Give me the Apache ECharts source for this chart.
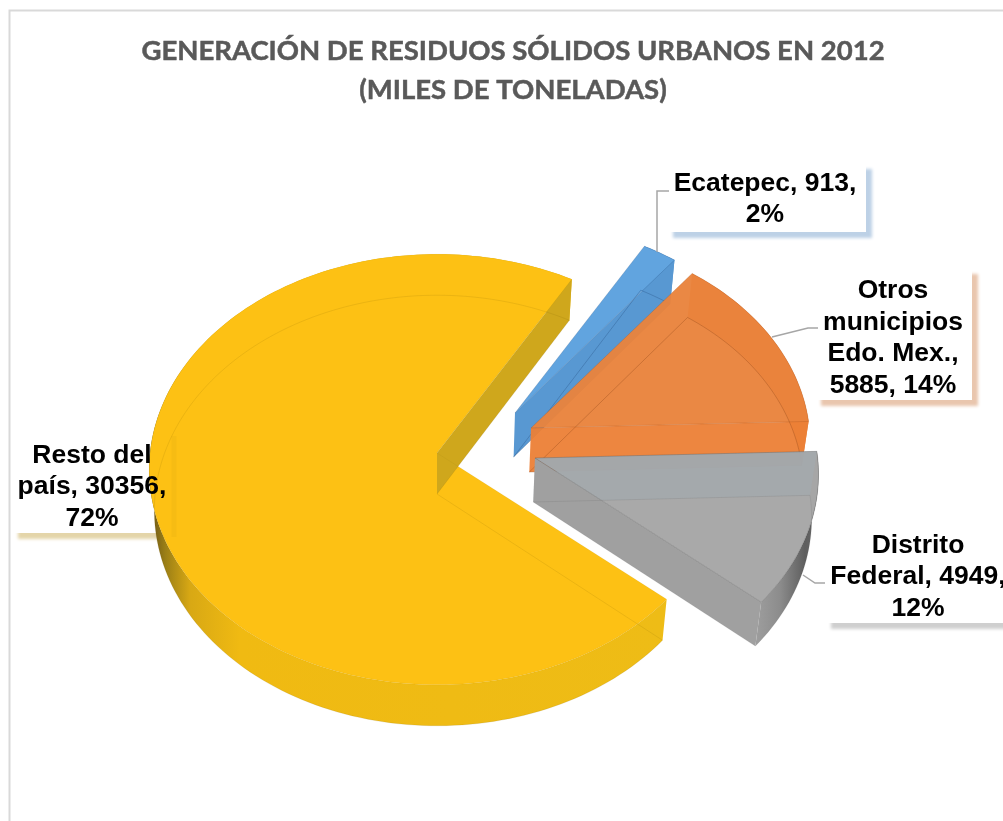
<!DOCTYPE html>
<html lang="es">
<head>
<meta charset="utf-8">
<title>Generación de residuos sólidos urbanos en 2012</title>
<style>
  html, body { margin: 0; padding: 0; background: #fff; overflow: hidden; }
  #chart { width: 1003px; height: 821px; }
</style>
<script src="https://cdn.jsdelivr.net/npm/echarts@6/dist/echarts.min.js"></script>
</head>
<body>
<div id="chart"></div>
<script>
// Generated urban solid waste, thousands of tonnes, 2012
const categories = ['Resto del país', 'Ecatepec', 'Otros municipios Edo. Mex.', 'Distrito Federal'];
const values = [30356, 913, 5885, 4949];
const percents = [72, 2, 14, 12];
const labelTexts = [
  'Resto del\npaís, 30356,\n72%',
  'Ecatepec, 913,\n2%',
  'Otros\nmunicipios\nEdo. Mex.,\n5885, 14%',
  'Distrito\nFederal, 4949,\n12%'
];
const titleLines = ['GENERACIÓN DE RESIDUOS SÓLIDOS URBANOS EN 2012', '(MILES DE TONELADAS)'];

// Tilted-disc projection of the pie
const FIRST_ANGLE = 130.5;          // degrees clockwise from the back of the disc
const APEX = [437, 453];
const RX = 287, RY = 214, PERSPECTIVE = 0.0766, BASE_SHRINK = 0.982;
const ARC_STEP = 1.5;

// Per-slice appearance and placement, in draw order
const explodeOffsets = [[0, 0], [78, -40], [94, -25], [98, 5]];
const radiusScales = [1, 0.96, 0.97, 0.985];
const depths = [41, 44, 44, 44];
const faceStyles = [
  { top: '#FDC114', endWall: '#CFA71C', startWall: null,
    edge: 'rgba(110,80,0,0.06)', baseEdge: 'rgba(110,80,0,0.12)',
    outer: [[150, '#6b5516'], [165, '#9a7e16'], [190, '#D8A814'], [240, '#F0BA12'], [660, '#EEBC16']] },
  { top: '#61A4DF', endWall: '#5898D2', startWall: null,
    edge: 'rgba(30,70,120,0.2)', baseEdge: 'rgba(30,70,120,0.3)',
    outer: [[640, '#5698D4'], [680, '#5698D4']] },
  { top: 'rgba(233,131,60,0.96)', endWall: 'rgba(236,128,54,0.95)', startWall: null,
    edge: 'rgba(150,70,20,0.22)', baseEdge: 'rgba(130,60,15,0.3)',
    outer: [[680, '#E9843E'], [815, '#E9843E']] },
  { top: 'rgba(167,167,167,0.98)', endWall: '#A0A0A0', startWall: 'rgba(150,168,180,0.28)',
    edge: 'rgba(70,70,70,0.28)', baseEdge: 'rgba(70,70,70,0.12)',
    outer: [[750, '#A2A2A2'], [780, '#8C8C8C'], [805, '#5E5E5E'], [820, '#6a6a6a']] }
];

// Label boxes, their drop shadows, leader lines and text anchors
const labelBoxes = [[12, 432, 160, 101], [667, 163, 199, 69], [815, 268, 157, 132], [825, 522, 190, 101]];
const labelShadows = ['#E4D5A9', '#BDD1E6', '#E9C6AE', '#CFCFCF'];
const labelCenters = [[92, 487], [765, 199], [893, 338], [918, 577]];
const leaderLines = [
  null,
  [[657, 252], [657, 191], [669, 191]],
  [[772, 337], [808, 328], [818, 328]],
  [[803, 575], [815, 583], [825, 583]]
];

const total = values.reduce((a, b) => a + b, 0);
const startAngles = [];
values.reduce((acc, v, i) => { startAngles[i] = acc; return acc + v / total * 360; }, FIRST_ANGLE);

// Projected point on the top face at the given clockwise angle
function topPoint(deg, off, scale) {
  const t = deg * Math.PI / 180;
  const u = Math.sin(t), v = -Math.cos(t), w = 1 - PERSPECTIVE * v;
  return [APEX[0] + off[0] + scale * RX * u / w, APEX[1] + off[1] + scale * RY * v / w];
}
// Same place on the base of the slab
function basePoint(p, depth) {
  return [APEX[0] + (p[0] - APEX[0]) * BASE_SHRINK, p[1] + depth];
}
function arcPoints(a0, a1, off, scale) {
  const pts = [];
  const n = Math.max(2, Math.ceil((a1 - a0) / ARC_STEP));
  for (let i = 0; i <= n; i++) pts.push(topPoint(a0 + (a1 - a0) * i / n, off, scale));
  return pts;
}
function poly(points, style) {
  return { type: 'polygon', silent: true, shape: { points }, style };
}
function xGradient(stops) {
  const x0 = stops[0][0], x1 = stops[stops.length - 1][0];
  return new echarts.graphic.LinearGradient(x0, 0, x1, 0,
    stops.map(s => ({ offset: (s[0] - x0) / (x1 - x0), color: s[1] })), true);
}

function renderSlice(params, api) {
  const i = params.dataIndex;
  const sweep = api.value(0) / total * 360;
  const a0 = startAngles[i], a1 = a0 + sweep;
  const off = explodeOffsets[i], depth = depths[i], face = faceStyles[i];

  const apexTop = [APEX[0] + off[0], APEX[1] + off[1]];
  const apexBase = basePoint(apexTop, depth);
  const arc = arcPoints(a0, a1, off, radiusScales[i]);
  const baseArc = arc.map(p => basePoint(p, depth));
  const first = arc[0], last = arc[arc.length - 1];
  const baseFirst = baseArc[0], baseLast = baseArc[baseArc.length - 1];

  const children = [];
  // curved outer wall
  children.push(poly(arc.concat(baseArc.slice().reverse()), { fill: xGradient(face.outer) }));
  // top face
  children.push(poly([apexTop].concat(arc), { fill: face.top }));
  // cut wall at the start of the sweep, seen through the top face
  if (face.startWall) {
    children.push(poly([apexTop, first, baseFirst, apexBase], { fill: face.startWall }));
  }
  // cut wall at the end of the sweep
  children.push(poly([apexTop, last, baseLast, apexBase], { fill: face.endWall }));
  // edges that show through the translucent material
  children.push(poly([apexBase].concat(baseArc), { fill: 'none', stroke: face.baseEdge, lineWidth: 1 }));
  children.push(poly([apexTop].concat(arc), { fill: 'none', stroke: face.edge, lineWidth: 1 }));
  return { type: 'group', children };
}

function renderBox(params) {
  const i = params.dataIndex, b = labelBoxes[i];
  return {
    type: 'rect', silent: true,
    shape: { x: b[0], y: b[1], width: b[2], height: b[3] },
    style: {
      fill: '#fff',
      shadowColor: labelShadows[i], shadowBlur: 3, shadowOffsetX: 6, shadowOffsetY: 6
    }
  };
}

function renderLabel(params) {
  const i = params.dataIndex, c = labelCenters[i];
  const children = [];
  if (leaderLines[i]) {
    children.push({
      type: 'polyline', silent: true,
      shape: { points: leaderLines[i] },
      style: { fill: 'none', stroke: '#A6A6A6', lineWidth: 1.5 }
    });
  } else {
    // box shadow falling faintly on the slice behind the label
    const b = labelBoxes[i];
    children.push({
      type: 'line', silent: true,
      shape: { x1: b[0] + b[2] + 2, y1: b[1] + 4, x2: b[0] + b[2] + 2, y2: b[1] + b[3] + 4 },
      style: { stroke: 'rgba(120,90,20,0.05)', lineWidth: 5 }
    });
  }
  children.push({
    type: 'text', silent: true,
    style: {
      text: labelTexts[i], x: c[0], y: c[1], align: 'center', verticalAlign: 'middle',
      fontFamily: '"Liberation Sans", Arial, sans-serif', fontWeight: 'bold', fontSize: 26.5,
      lineHeight: 31.5, fill: '#000'
    }
  });
  return { type: 'group', children };
}

const seriesData = values.map((v, i) => ({ name: categories[i], value: v, percent: percents[i] }));
const chart = echarts.init(document.getElementById('chart'), null, { renderer: 'canvas' });
chart.setOption({
  animation: false,
  backgroundColor: '#fff',
  title: {
    text: titleLines.join('\n'),
    left: 508, top: 27, textAlign: 'center',
    textStyle: {
      fontFamily: 'Lato, "Open Sans", sans-serif', fontWeight: 'bold',
      fontSize: 27.5, lineHeight: 39, color: '#595959',
      textBorderColor: '#595959', textBorderWidth: 0.5
    }
  },
  graphic: [{
    type: 'polyline', silent: true, z: 0,
    shape: { points: [[9.5, 821], [9.5, 10.5], [1003, 10.5]] },
    style: { fill: 'none', stroke: '#D9D9D9', lineWidth: 2 }
  }],
  series: [
    { type: 'custom', name: 'cajas', coordinateSystem: 'none', z: 1, data: seriesData, renderItem: renderBox },
    { type: 'custom', name: 'residuos', coordinateSystem: 'none', z: 2, data: seriesData, renderItem: renderSlice },
    { type: 'custom', name: 'etiquetas', coordinateSystem: 'none', z: 3, data: seriesData, renderItem: renderLabel }
  ]
});
</script>
</body>
</html>
